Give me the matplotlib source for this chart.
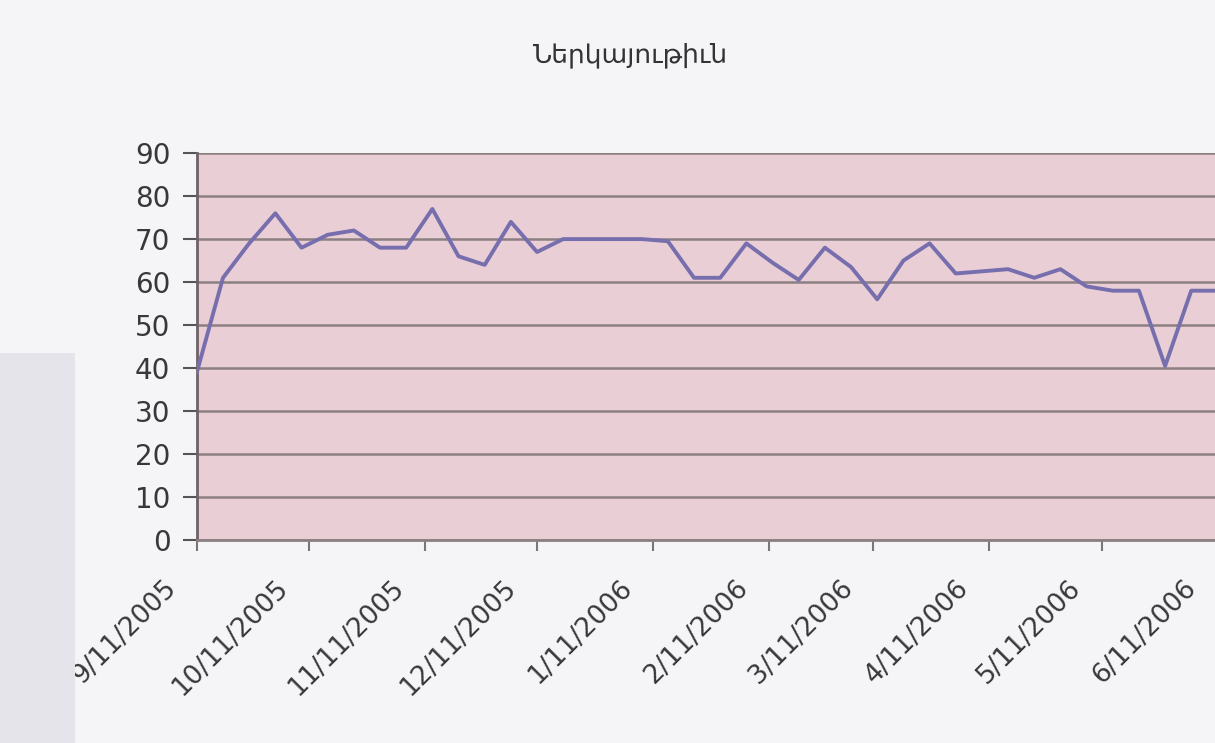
import numpy as np
import pandas as pd
import matplotlib
matplotlib.use("Agg")
import matplotlib.pyplot as plt
import matplotlib.dates as mdates
import matplotlib.transforms as mtransforms

title = "Ներկայութիւն"

# weekly attendance, starting 9/11/2005
start = "2005-09-11"
values = [39, 61, 69, 76, 68, 71, 72, 68, 68, 77,
          66, 64, 74, 67, 70, 70, 70, 70, 69.5, 61,
          61, 69, 64.5, 60.5, 68, 63.5, 56, 65, 69, 62,
          62.5, 63, 61, 63, 59, 58, 58, 40.5, 58, 58]
dates = pd.date_range(start, periods=len(values), freq="7D")

tick_dates = ["2005-09-11", "2005-10-11", "2005-11-11", "2005-12-11", "2006-01-11",
              "2006-02-11", "2006-03-11", "2006-04-11", "2006-05-11", "2006-06-11"]
tick_labels = ["9/11/2005", "10/11/2005", "11/11/2005", "12/11/2005", "1/11/2006",
               "2/11/2006", "3/11/2006", "4/11/2006", "5/11/2006", "6/11/2006"]
y_ticks = list(range(0, 100, 10))

plt.rcParams['font.family'] = ['DejaVu Sans']

fig = plt.figure(figsize=(12.15, 7.43), dpi=100, facecolor='#f5f5f8')
# grey scan shadow on the left
fig.patches.append(plt.Rectangle((0, 0), 0.062, 0.525, transform=fig.transFigure,
                                 fc='#e4e4ea', ec='none', zorder=0))
ax = fig.add_axes([0.162, 0.273, 0.840, 0.521])
ax.set_facecolor('#e9ced6')

ax.plot(dates, values, color='#776ead', lw=2.8, zorder=3)

ax.set_ylim(0, 90)
ax.set_yticks(y_ticks)
ax.yaxis.grid(True, color='#8c7f82', lw=1.8)
ax.set_axisbelow(True)

tks = pd.to_datetime(tick_dates)
ax.set_xlim(tks[0], tks[-1])
ax.set_xticks(tks)
ax.set_xticklabels([])
# rotated date labels, set a bit left of and below each tick
shift = mtransforms.ScaledTranslation(-0.34, -0.35, fig.dpi_scale_trans)
for d, lab in zip(tks, tick_labels):
    ax.text(mdates.date2num(d), 0, lab, transform=ax.get_xaxis_transform() + shift,
            rotation=45, ha='right', va='top', rotation_mode='anchor',
            fontsize=19, color='#383838', clip_on=False)

ax.tick_params(axis='y', labelsize=20, length=10, width=1.5, color='#555555',
               labelcolor='#383838', pad=9)
ax.tick_params(axis='x', length=8, width=1.5, color='#777777')

for s in ['top', 'right']:
    ax.spines[s].set_visible(False)
ax.spines['left'].set_color('#6e6265')
ax.spines['left'].set_linewidth(2)
ax.spines['bottom'].set_color('#8c7f82')
ax.spines['bottom'].set_linewidth(2)

fig.text(0.519, 0.926, title, ha='center', va='center', fontsize=19,
         color='#333333')

fig.savefig("out.png", dpi=100, facecolor=fig.get_facecolor())
